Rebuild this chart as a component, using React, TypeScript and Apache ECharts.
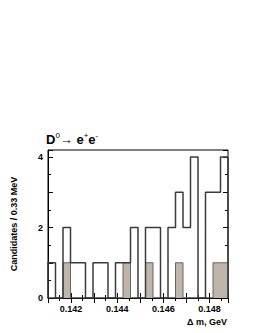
import React, { useEffect, useRef } from "react";
import * as echarts from "echarts";

// Histogram definition (Δm in GeV)
const binStart = 0.141;
const binWidth = 0.000325;
const totalCounts = [1, 0, 2, 1, 1, 0, 1, 1, 0, 1, 1, 2, 0, 2, 2, 0, 2, 3, 2, 4, 0, 3, 3, 4];
const shadedCounts = [0, 0, 1, 0, 0, 0, 0, 0, 0, 0, 1, 0, 0, 1, 0, 0, 0, 1, 0, 0, 0, 0, 1, 1];
const signalWindow = [0.1449, 0.14588];
const xTickLabels = ["0.142", "0.144", "0.146", "0.148"];
const yTickLabels = ["0", "2", "4"];

function stepData(counts: number[]) {
  const pts: [number, number][] = [];
  const edge = (i: number) => binStart + i * binWidth;
  pts.push([edge(0), 0]);
  counts.forEach((c, i) => pts.push([edge(i), c]));
  pts.push([edge(counts.length), 0]);
  return pts;
}

const FONT = "Liberation Sans, Arial, Helvetica, sans-serif";

export default function App() {
  const ref = useRef<HTMLDivElement>(null);
  useEffect(() => {
    if (!ref.current) return;
    const chart = echarts.init(ref.current, undefined, { renderer: "svg" });
    const xMin = binStart;
    const xMax = binStart + totalCounts.length * binWidth;
    const xFmt = (v: number) => {
      const s = v.toFixed(3);
      return xTickLabels.includes(s) && Math.abs(v - parseFloat(s)) < 1e-6 ? s : "";
    };
    const yFmt = (v: number) => {
      const s = String(Math.round(v));
      return yTickLabels.includes(s) && Math.abs(v - Math.round(v)) < 1e-6 ? s : "";
    };
    const tickStyle = { color: "#000", width: 1 };
    chart.setOption({
      animation: false,
      backgroundColor: "#fff",
      grid: {
        left: 48,
        top: 150,
        width: 180,
        height: 148,
        show: true,
        borderColor: "#000",
        borderWidth: 1,
        backgroundColor: "transparent",
      },
      xAxis: [
        {
          type: "value",
          min: xMin,
          max: xMax,
          interval: 0.001,
          axisLine: { show: true, onZero: false, lineStyle: { color: "#000", width: 1 } },
          axisTick: { show: true, inside: true, length: 5, lineStyle: tickStyle },
          minorTick: { show: true, splitNumber: 2, length: 3, lineStyle: tickStyle },
          splitLine: { show: false },
          axisLabel: {
            formatter: xFmt,
            color: "#000",
            fontFamily: FONT,
            fontWeight: "bold",
            fontSize: 9,
            margin: 6,
          },
        },
        {
          type: "value",
          position: "top",
          min: xMin,
          max: xMax,
          interval: 0.001,
          axisLine: { show: false },
          axisTick: { show: true, inside: true, length: 5, lineStyle: tickStyle },
          minorTick: { show: true, splitNumber: 2, length: 3, lineStyle: tickStyle },
          splitLine: { show: false },
          axisLabel: { show: false },
        },
      ],
      yAxis: [
        {
          type: "value",
          min: 0,
          max: 4.2,
          interval: 1,
          name: "Candidates / 0.33 MeV",
          nameLocation: "middle",
          nameGap: 30,
          nameTextStyle: { color: "#000", fontFamily: FONT, fontWeight: "bold", fontSize: 9 },
          axisLine: { show: true, lineStyle: { color: "#000", width: 1 } },
          axisTick: { show: true, inside: true, length: 5, lineStyle: tickStyle },
          minorTick: { show: true, splitNumber: 2, length: 3, lineStyle: tickStyle },
          splitLine: { show: false },
          axisLabel: {
            formatter: yFmt,
            color: "#000",
            fontFamily: FONT,
            fontWeight: "bold",
            fontSize: 9,
            margin: 5,
          },
        },
        {
          type: "value",
          position: "right",
          min: 0,
          max: 4.2,
          interval: 1,
          axisLine: { show: false },
          axisTick: { show: true, inside: true, length: 5, lineStyle: tickStyle },
          minorTick: { show: true, splitNumber: 2, length: 3, lineStyle: tickStyle },
          splitLine: { show: false },
          axisLabel: { show: false },
        },
      ],
      series: [
        {
          type: "line",
          xAxisIndex: 0,
          yAxisIndex: 0,
          step: "end",
          symbol: "none",
          data: stepData(shadedCounts),
          lineStyle: { color: "#6b625a", width: 1 },
          areaStyle: { color: "#bfb6ab", opacity: 1, origin: "start" },
          z: 2,
        },
        {
          type: "line",
          xAxisIndex: 0,
          yAxisIndex: 0,
          step: "end",
          symbol: "none",
          data: stepData(totalCounts),
          lineStyle: { color: "#3a3a3a", width: 1.5 },
          z: 3,
          markLine: {
            silent: true,
            symbol: "none",
            label: { show: false },
            lineStyle: { color: "#000", type: "dotted", width: 1 },
            data: signalWindow.map((x) => ({ xAxis: x })),
          },
        },
      ],
      graphic: [
        {
          type: "text",
          left: 46,
          top: 131,
          style: {
            text: "{a|D}{s|0}{b|→ }{a|e}{s|+}{a|e}{s|-}",
            fontFamily: FONT,
            rich: {
              a: { fontSize: 13, fontWeight: "bold", fill: "#000", lineHeight: 16, fontFamily: FONT },
              b: { fontSize: 13, fill: "#000", lineHeight: 16, fontFamily: FONT },
              s: { fontSize: 8, fill: "#000", verticalAlign: "top", lineHeight: 10, fontFamily: FONT },
            },
          },
        },
        {
          type: "text",
          right: 31,
          top: 317,
          style: {
            text: "Δ m, GeV",
            fontFamily: FONT,
            fontSize: 9,
            fontWeight: "bold",
            fill: "#000",
          },
        },
      ],
    });
    return () => chart.dispose();
  }, []);
  return (
    <div
      ref={ref}
      style={{ position: "fixed", left: 0, top: 0, width: 258, height: 333, background: "#fff" }}
    />
  );
}
